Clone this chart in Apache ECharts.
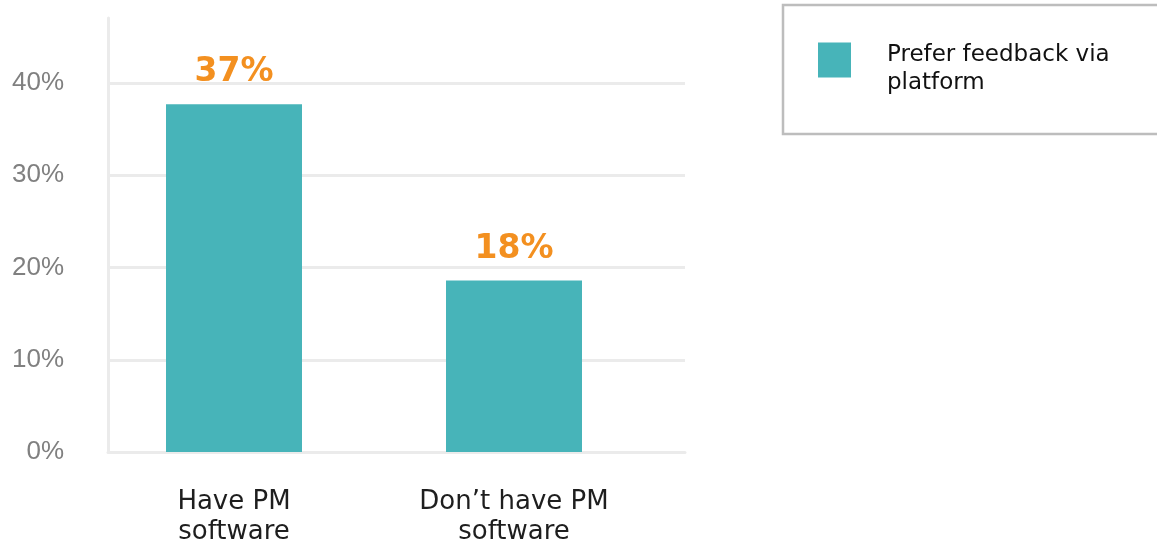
<!DOCTYPE html>
<html><head><meta charset="utf-8">
<script src="https://cdn.jsdelivr.net/npm/echarts@6/dist/echarts.min.js"></script>
<style>html,body{margin:0;padding:0;background:#fff}#c{width:1157px;height:544px}</style>
</head><body><div id="c"></div>
<script>
const categories = ["Have PM\nsoftware", "Don’t have PM\nsoftware"];
const seriesName = "Prefer feedback via\nplatform";
const values = [37.7, 18.6];
const valueLabels = ["37%", "18%"];
const yTicks = [0, 10, 20, 30, 40];

const chart = echarts.init(document.getElementById('c'));
const yMax = 47.05;
chart.setOption({
  animation: false,
  grid: [
    {left: 108, right: 472, top: 18, bottom: 92, outerBoundsMode: 'none', containLabel: false},
    {left: 94, right: 503, top: 18, bottom: 92, outerBoundsMode: 'none', containLabel: false}
  ],
  legend: {
    data: [seriesName],
    left: 783, top: 5,
    padding: [36, 80, 37, 35],
    borderColor: '#bdbdbd', borderWidth: 2.5,
    itemWidth: 33, itemHeight: 53,
    itemGap: 0,
    icon: 'path://M0,0H33V35H0Z M0,52.99H0.01V53H0Z',
    selectedMode: false,
    textStyle: {fontFamily: 'DejaVu Sans', fontSize: 23, color: '#111', lineHeight: 28, padding: [0,0,0,31]}
  },
  xAxis: [
    {gridIndex: 0, type: 'category', data: categories, show: true,
     axisLine: {lineStyle: {color: '#ebebeb', width: 3}}, axisTick: {show: false}, axisLabel: {show: false}},
    {gridIndex: 1, type: 'category', data: categories,
     axisLine: {show: false}, axisTick: {show: false},
     axisLabel: {fontFamily: 'DejaVu Sans', fontSize: 26, color: '#1e1e1e', lineHeight: 30, margin: 35}}
  ],
  yAxis: [
    {gridIndex: 0, type: 'value', min: 0, max: yMax, interval: 10,
     axisLine: {show: true, lineStyle: {color: '#ebebeb', width: 3}},
     axisTick: {show: false},
     splitLine: {lineStyle: {color: '#ebebeb', width: 3}, showMaxLine: false, showMinLine: false},
     axisLabel: {margin: 44, fontFamily: 'Liberation Sans', fontSize: 26, color: '#808080',
       showMaxLabel: false,
       formatter: v => yTicks.indexOf(v) >= 0 ? v + '%' : ''}},
    {gridIndex: 1, type: 'value', min: 0, max: yMax, show: false, splitLine: {show: false}}
  ],
  series: [{
    name: seriesName, type: 'bar', xAxisIndex: 1, yAxisIndex: 1,
    data: values, barWidth: 136,
    itemStyle: {color: '#47b4b9'},
    label: {show: true, position: 'top', distance: 15,
      formatter: p => valueLabels[p.dataIndex],
      fontFamily: 'DejaVu Sans', fontWeight: 'bold', fontSize: 33, color: '#f39020'}
  }]
});
</script></body></html>
